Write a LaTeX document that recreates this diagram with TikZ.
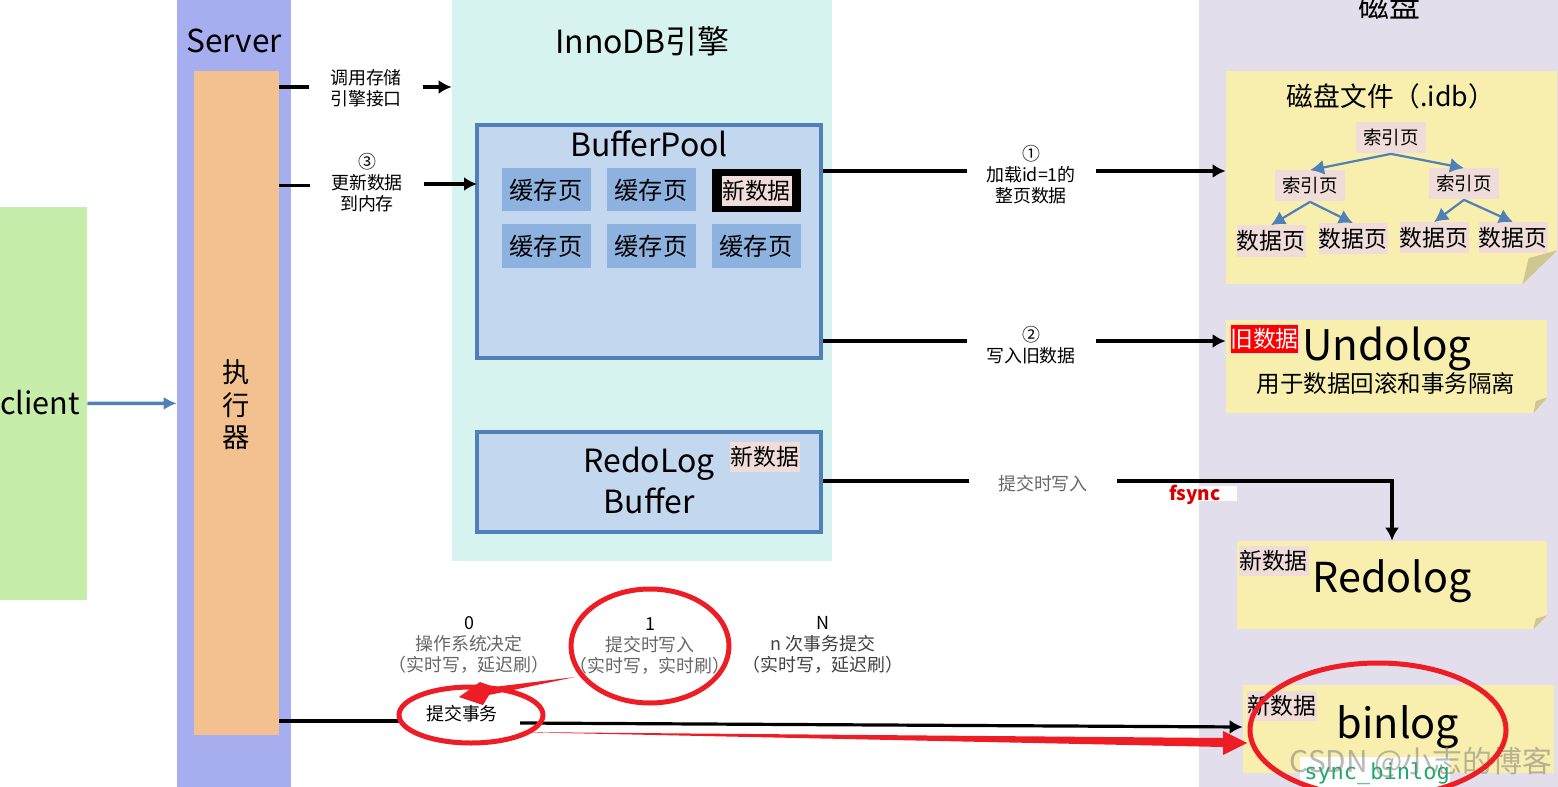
\documentclass[tikz,border=0pt]{standalone}
\usepackage{fontspec}
\setmainfont{Noto Sans CJK SC}
\newfontfamily\monofont{DejaVu Sans Mono}
\usetikzlibrary{arrows.meta,shapes.geometric}
\definecolor{cGreen}{HTML}{C6EDAA}
\definecolor{cServer}{HTML}{A6AEEF}
\definecolor{cExec}{HTML}{F3C18F}
\definecolor{cInno}{HTML}{D7F3F0}
\definecolor{cDisk}{HTML}{E2DEEB}
\definecolor{cBuf}{HTML}{C3D7EF}
\definecolor{cEdge}{HTML}{4F81B8}
\definecolor{cPage}{HTML}{8DB2DF}
\definecolor{cPink}{HTML}{F0DCD9}
\definecolor{cNote}{HTML}{F8EEAE}
\definecolor{cFold}{HTML}{CFC690}
\definecolor{cRed}{HTML}{EE1C25}
\def\px{0.02cm}
\tikzset{
  every node/.style={inner sep=0pt},
  fs/.style={font=\fontsize{#1}{#1}\selectfont},
  box/.style args={#1/#2}{minimum width=#1*\px,minimum height=#2*\px},
  lbl/.style={align=center,font=\fontsize{10.2}{11.9}\selectfont},
  pool/.style={draw=cEdge,line width=4*\px,fill=cBuf},
  pg/.style={fill=cPage,box=89/43,fs=13.8},
  tag/.style={fill=cPink,box=70/30,fs=13},
  idx/.style={fill=cPink,box=70/31,fs=10.5},
  dat/.style={fill=cPink,box=69/31,fs=13},
  conn/.style={line width=3.2*\px},
  arr/.style={conn,-{Latex[length=13*\px,width=14*\px]}},
  tree/.style={cEdge,line width=2.2*\px,-{Latex[length=14*\px,width=15*\px]}},
  redring/.style={ellipse,draw=cRed,line width=5*\px}
}
\begin{document}
\begin{tikzpicture}[x=\px,y=-\px]
\useasboundingbox (0,0) rectangle (1558,787);
\clip (0,0) rectangle (1558,787);
\node[fill=cGreen,box=87/393] (client) at (43.5,403.5) {};
\node[fs=17.4] (clientname) at (40,403) {client};
\node[fill=cServer,box=114/800,anchor=north] (server) at (234,-5) {};
\node[fill=cExec,box=85/664,anchor=north] (exec) at (236.5,71) {};
\node[align=center,font=\fontsize{15.5}{18.5}\selectfont] (execname) at (236,405) {执\\行\\器};
\node[fs=18] (servername) at (234,41) {Server};
\node[fill=cInno,box=380/570,anchor=north] (inno) at (642,-9) {};
\node[fs=18.2] (innoname) at (642.5,41) {InnoDB引擎};
\fill[cDisk] (1199,0) rectangle (1558,787);
\node[fs=17.6] (diskname) at (1389,5) {磁盘};

% buffer pool
\node[pool,box=344/233] (pool) at (649,241.5) {};
\node[fs=18.2] (poolname) at (649,144) {BufferPool};
\foreach \n/\x/\y in {p1/546/190, p2/651/190, p4/546/246, p5/651/246, p6/756/246}
  \node[pg] (\n) at (\x,\y) {缓存页};
\node[fill=black,box=89/43] (p3) at (756.5,190.5) {};
\node[tag] (newpool) at (756.5,191) {新数据};

% redo buffer
\node[pool,box=344/100] (redobuf) at (649,482) {};
\node[fs=18.2] (redoa) at (649,464) {RedoLog};
\node[fs=18.2] (redob) at (649,501) {Buffer};
\node[tag] (newbuf) at (765,457) {新数据};

% notes on disk
\foreach \n/\x/\y/\w/\h/\f/\g in {idb/1391.5/177.5/331/213/35/34, undo/1386.5/366.5/321/93/14/16, redo/1392/585/310/88/14/14, bin/1398.5/729/311/88/0/0} {
  \node[fill=cNote,box=\w/\h] (\n) at (\x,\y) {};
  \fill[cDisk] (\n.south east) -- ++(0,-\g) -- ([xshift=-\f*\px]\n.south east) -- cycle;
  \fill[cFold] ([yshift=\g*\px]\n.south east) -- ++(-0.82*\f,0.23*\g) -- ([xshift=-\f*\px]\n.south east) -- cycle;
}
\node[fs=15.2] (idbname) at (1391,96) {磁盘文件（.idb）};
\node[idx] (ia) at (1391,138) {索引页};
\node[idx] (ib) at (1310,186) {索引页};
\node[idx] (ic) at (1464,184) {索引页};
\foreach \n/\x/\y in {da/1271/241, db/1353/239, dc/1434/238, dd/1513/238}
  \node[dat] (\n) at (\x,\y) {数据页};
\foreach \a/\b in {ia/ib, ia/ic, ib/da, ib/db, ic/dc, ic/dd}
  \draw[tree] (\a.south) -- (\b.north);

\node[fill=red,draw=cPink,line width=1.5*\px,box=68/29,fs=13,text=white] (old) at (1264.5,339) {旧数据};
\node[fs=24] (undoname) at (1387,349) {Undolog};
\node[fs=13.4] (undonote) at (1386,384) {用于数据回滚和事务隔离};
\node[tag] (newredo) at (1273.5,560.5) {新数据};
\node[fs=23.5] (redoname) at (1392,581) {Redolog};
\node[tag] (newbin) at (1282,705.5) {新数据};
\node[fs=23.6] (binname) at (1398,727) {binlog};
\fill[white] (1300,757) rectangle (1450,787);
\node[font=\monofont\fontsize{12.5}{12.5}\selectfont,text={rgb,255:red,31;green,170;blue,106}] (sync) at (1377,774) {sync\_binlog};
\node[fs=17,text=gray,opacity=.55] (wm) at (1421,762) {CSDN @小志的博客};

% labels
\node[lbl] (call) at (366,88) {调用存储\\引擎接口};
\coordinate (calla) at (309,87);
\coordinate (callb) at (423,87);
\node[lbl] (mem) at (367,183) {③\\更新数据\\到内存};
\coordinate (mema) at (310,185.5);
\coordinate (memb) at (424,184);
\node[lbl] (load) at (1031,175) {①\\加载id=1的\\整页数据};
\coordinate (loada) at (967,171);
\coordinate (loadb) at (1096,171);
\node[lbl] (write) at (1031,345) {②\\写入旧数据};
\coordinate (writea) at (967,341);
\coordinate (writeb) at (1096,341);
\node[lbl,text=black!60] (flush) at (1043,484) {提交时写入};
\coordinate (flusha) at (969,481);
\coordinate (flushb) at (1117,481);
\fill[white] (1170,486) rectangle (1237,501);
\node[text=red!85!black,font=\bfseries\fontsize{10.8}{10.8}\selectfont] (fsync) at (1195,495) {fsync};

\node[lbl,text=black!60] (opt0) at (469,645) {{\color{black}0}\\操作系统决定\\（实时写，延迟刷）};
\node[lbl,text=black!60] (opt1) at (650,646) {{\color{black}1}\\提交时写入\\（实时写，实时刷）};
\node[lbl,text=black!75] (optn) at (823,645) {{\color{black}N}\\n 次事务提交\\（实时写，延迟刷）};
\node[lbl] (commit) at (462,714) {提交事务};
\coordinate (commita) at (400,721);
\coordinate (commitb) at (520,723);

% connectors
\draw[line width=3.5*\px,cEdge,-{Latex[length=13*\px,width=13*\px]}] (client.east) -- (exec.west -| server.west);
\draw[conn] (exec.east |- calla) -- (calla);
\draw[arr] (callb) -- (inno.west |- callb);
\draw[conn] (exec.east |- mema) -- (mema);
\draw[arr] (memb) -- ([xshift=.04cm]pool.west |- memb);
\draw[conn] (pool.east |- loada) -- (loada);
\draw[arr] (loadb) -- (idb.west |- loadb);
\draw[conn] (pool.east |- writea) -- (writea);
\draw[arr] (writeb) -- (undo.west |- writeb);
\draw[conn] (redobuf.east |- flusha) -- (flusha);
\draw[arr] (flushb) -| (redo.north);
\draw[conn] (exec.east |- commita) -- (commita);
\draw[arr] (commitb) -- ([yshift=.04cm]bin.west);

% red marks
\node[redring,box=144/56] (markcommit) at (471,715) {};
\node[redring,box=158/114] (markone) at (650,646) {};
\node[redring,box=256/134] (markbin) at (1378,730) {};
\coordinate (tailone) at (575,677);
\coordinate (tailbin) at (514,732);
\fill[cRed] (tailone) -- (494,687) -- (480,682) -- (459,697) -- (483,705) -- (489,695) -- cycle;
\fill[cRed] (tailbin) -- (1223,738) -- (1223,731) -- (1247,743) -- (1223,755) -- (1223,747) -- cycle;
\end{tikzpicture}
\end{document}
